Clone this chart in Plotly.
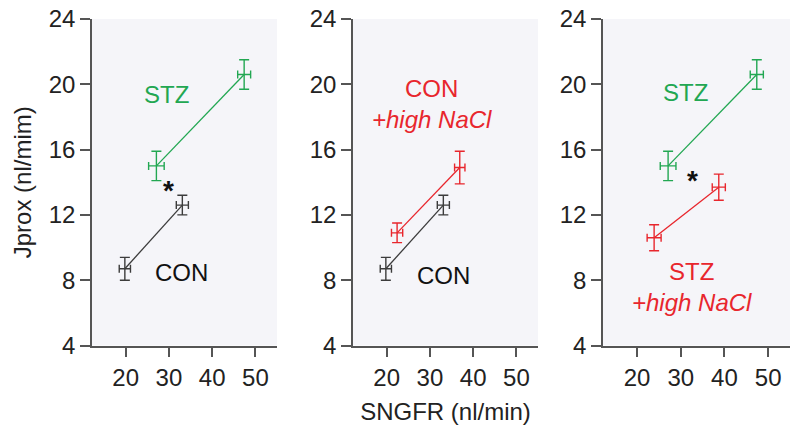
import plotly.graph_objects as go

# ---- data ----
con_x = [19.8, 33.1]
con_y = [8.7, 12.6]
con_ex = [1.3, 1.4]
con_ey = [0.7, 0.6]

stz_x = [27.1, 47.4]
stz_y = [15.0, 20.6]
stz_ex = [1.8, 1.5]
stz_ey = [0.9, 0.9]

con_nacl_x = [22.4, 36.9]
con_nacl_y = [10.9, 14.9]
con_nacl_ex = [1.3, 1.2]
con_nacl_ey = [0.6, 1.0]

stz_nacl_x = [23.9, 38.7]
stz_nacl_y = [10.6, 13.7]
stz_nacl_ex = [1.6, 1.5]
stz_nacl_ey = [0.8, 0.8]

x_ticks = [20, 30, 40, 50]
y_ticks = [4, 8, 12, 16, 20, 24]

GREEN = "#22a752"
RED = "#e8262d"
DARK = "#3c3c3c"
FONT = "Liberation Sans, Arial, sans-serif"
FS = 24

fig = go.Figure()


def series(x, y, ex, ey, color, xa, ya):
    fig.add_trace(go.Scatter(
        x=x, y=y, mode="lines", xaxis=xa, yaxis=ya,
        line=dict(color=color, width=1.3),
        error_x=dict(type="data", array=ex, visible=True, color=color, thickness=1.4, width=4),
        error_y=dict(type="data", array=ey, visible=True, color=color, thickness=1.4, width=5),
        showlegend=False, hoverinfo="skip"))


# panel 1
series(con_x, con_y, con_ex, con_ey, DARK, "x", "y")
series(stz_x, stz_y, stz_ex, stz_ey, GREEN, "x", "y")
# panel 2
series(con_x, con_y, con_ex, con_ey, DARK, "x2", "y2")
series(con_nacl_x, con_nacl_y, con_nacl_ex, con_nacl_ey, RED, "x2", "y2")
# panel 3
series(stz_x, stz_y, stz_ex, stz_ey, GREEN, "x3", "y3")
series(stz_nacl_x, stz_nacl_y, stz_nacl_ex, stz_nacl_ey, RED, "x3", "y3")

W, H = 800, 440
domains = [(92 / W, 277 / W), (353 / W, 538 / W), (603 / W, 790 / W)]
ydom = (1 - 345.5 / H, 1 - 19 / H)

axis_common = dict(
    showline=True, linecolor="#555", linewidth=1.5,
    ticks="outside", ticklen=10, tickwidth=1.5, tickcolor="#555",
    showgrid=False, zeroline=False, ticklabeloverflow="allow",
    tickfont=dict(family=FONT, size=FS, color="#222"),
)

layout = dict(
    width=W, height=H,
    margin=dict(l=0, r=0, t=0, b=0),
    paper_bgcolor="white",
    plot_bgcolor="#f5f5f9",
    font=dict(family=FONT, size=FS, color="#222"),
    showlegend=False,
)

for i, d in enumerate(domains):
    sfx = "" if i == 0 else str(i + 1)
    xa = dict(axis_common, domain=list(d), range=[12.2, 55], tickvals=x_ticks,
              anchor="y" + sfx, automargin=False)
    ya = dict(axis_common, domain=list(ydom), range=[4, 24], tickvals=y_ticks,
              anchor="x" + sfx, automargin=False)
    if i == 1:
        xa["title"] = dict(text="SNGFR (nl/min)", standoff=13,
                           font=dict(family=FONT, size=FS, color="#222"))
    if i == 0:
        ya["title"] = dict(text="Jprox (nl/mim)", standoff=10,
                           font=dict(family=FONT, size=FS, color="#222"))
    layout["xaxis" + sfx] = xa
    layout["yaxis" + sfx] = ya

fig.update_layout(**layout)


def label(text, x, y, color, xa, ya, size=FS):
    fig.add_annotation(text=text, x=x, y=y, xref=xa, yref=ya, showarrow=False,
                       font=dict(family=FONT, size=size, color=color),
                       xanchor="center", yanchor="middle")


# panel 1 labels
label("STZ", 29.4, 19.4, GREEN, "x", "y")
label("CON", 32.9, 8.5, "#111", "x", "y")
label("<b>*</b>", 30.0, 13.5, "#111", "x", "y", size=28)
# panel 2 labels
label("CON<br><i>+high NaCl</i>", 30.5, 18.8, RED, "x2", "y2")
label("CON", 33.2, 8.3, "#111", "x2", "y2")
# panel 3 labels
label("STZ", 31.1, 19.5, GREEN, "x3", "y3")
label("STZ<br><i>+high NaCl</i>", 32.6, 7.6, RED, "x3", "y3")
label("<b>*</b>", 32.6, 14.1, "#111", "x3", "y3", size=28)

# remove the page's default body margin so the 800x440 figure fills the window
fig.write_html("out.html", config={"displayModeBar": False},
               post_script="document.body.style.margin='0';")
